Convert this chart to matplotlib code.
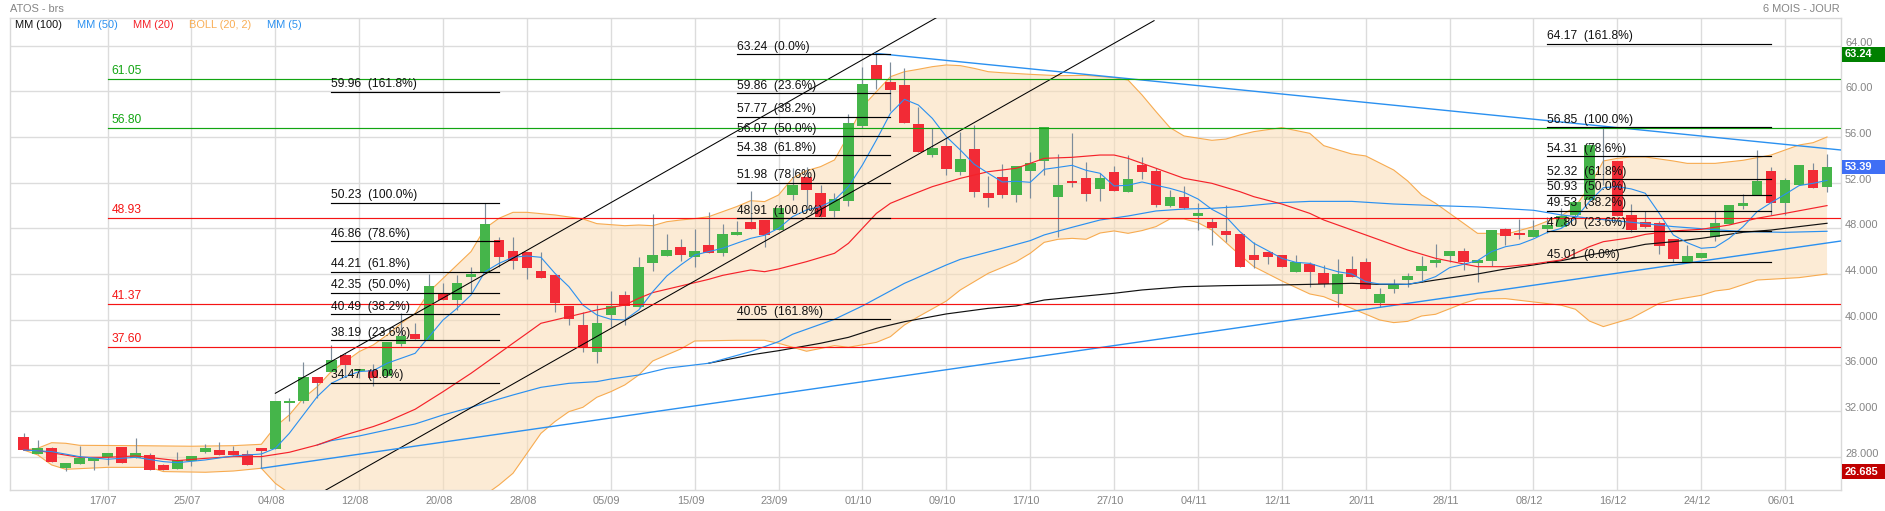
import matplotlib
matplotlib.use('Agg')
import matplotlib.pyplot as plt
import numpy as np
from matplotlib.patches import Rectangle

plt.rcParams['font.family'] = ['Liberation Sans', 'DejaVu Sans']

# daily candles, one row per session: open, high, low, close
ohlc = [
    (29.69, 30.04, 28.58, 28.58), (28.26, 29.46, 28.26, 28.73), (28.73, 28.88, 27.56, 27.56), (27.01, 27.44, 26.77, 27.44),
    (27.39, 28.93, 27.39, 27.88), (27.65, 27.85, 26.83, 27.85), (27.94, 28.32, 27.27, 28.32), (28.85, 28.85, 27.47, 27.47),
    (27.88, 29.61, 27.88, 28.32), (28.12, 28.32, 26.86, 26.86), (27.24, 27.36, 26.86, 26.86), (26.95, 28.38, 26.95, 27.68),
    (27.59, 28.03, 27.18, 28.03), (28.44, 29.11, 28.29, 28.73), (28.55, 29.25, 28.17, 28.17), (28.47, 28.96, 28.15, 28.15),
    (28.20, 28.58, 27.24, 27.24), (28.73, 28.73, 26.98, 28.53), (28.70, 32.88, 28.70, 32.88), (32.73, 33.11, 31.15, 32.85),
    (32.90, 36.29, 32.67, 34.95), (34.95, 34.95, 33.11, 34.48), (35.45, 37.75, 35.45, 36.47), (36.88, 37.11, 35.01, 36.00),
    (35.50, 35.65, 34.86, 35.65), (35.59, 36.12, 34.19, 34.86), (35.07, 38.04, 34.95, 38.04), (37.87, 40.55, 37.69, 38.57),
    (38.72, 39.74, 38.31, 38.31), (38.22, 44.00, 38.22, 42.95), (42.34, 43.18, 41.75, 41.75), (41.75, 43.91, 40.85, 43.18),
    (43.77, 44.64, 42.31, 43.97), (44.06, 50.25, 44.06, 48.38), (46.95, 47.21, 44.64, 45.52), (45.99, 47.21, 44.47, 45.17),
    (45.90, 45.90, 43.59, 44.55), (44.23, 45.90, 43.68, 43.68), (43.88, 43.88, 40.70, 41.43), (41.17, 41.17, 39.53, 40.03),
    (39.50, 40.64, 37.20, 37.63), (37.20, 41.28, 36.23, 39.68), (40.41, 42.51, 39.39, 41.20), (42.13, 42.51, 39.53, 41.20),
    (41.14, 45.49, 41.14, 44.61), (44.99, 49.26, 44.29, 45.66), (45.58, 47.50, 45.58, 46.07), (46.34, 47.07, 45.17, 45.69),
    (45.52, 47.94, 44.64, 45.99), (46.51, 49.43, 45.87, 45.87), (45.87, 48.41, 45.58, 47.50), (47.42, 48.67, 47.42, 47.68),
    (48.53, 51.27, 47.97, 47.97), (48.70, 48.70, 46.39, 47.42), (47.85, 49.90, 47.85, 49.75), (50.95, 53.26, 50.48, 51.77),
    (52.47, 53.34, 49.96, 51.39), (51.07, 51.82, 48.96, 48.96), (49.55, 51.07, 48.96, 50.54), (50.42, 58.01, 49.99, 57.20),
    (56.99, 62.13, 56.76, 60.61), (62.28, 63.33, 60.20, 61.05), (60.79, 62.57, 58.31, 60.15), (60.53, 62.01, 57.26, 57.26),
    (57.11, 58.66, 54.72, 54.72), (54.45, 56.79, 54.22, 55.01), (55.18, 55.88, 52.67, 53.17), (52.93, 56.47, 52.70, 54.04),
    (54.92, 57.05, 50.77, 51.21), (51.07, 52.58, 49.90, 50.69), (52.47, 53.63, 50.69, 50.95), (50.95, 53.46, 50.34, 53.46),
    (53.02, 54.69, 50.69, 53.69), (53.93, 56.85, 52.67, 56.85), (50.77, 54.48, 47.27, 51.77), (52.15, 56.32, 51.65, 51.97),
    (52.38, 53.78, 50.42, 51.04), (51.47, 52.82, 50.42, 52.38), (52.90, 53.46, 51.24, 51.24), (51.21, 54.42, 51.21, 52.29),
    (53.52, 54.25, 52.35, 52.96), (52.99, 53.26, 49.90, 50.01), (49.99, 51.36, 49.90, 50.72), (50.72, 51.71, 49.66, 49.75),
    (49.11, 50.19, 47.85, 49.34), (48.53, 48.88, 46.54, 48.00), (47.77, 50.04, 46.83, 47.44), (47.47, 47.47, 44.58, 44.58),
    (45.63, 46.80, 44.55, 45.20), (45.96, 45.96, 44.88, 45.52), (45.63, 45.63, 44.58, 44.58), (44.20, 45.66, 44.20, 45.08),
    (44.90, 45.08, 42.89, 44.20), (44.06, 44.79, 42.89, 43.15), (42.28, 45.31, 41.14, 43.97), (44.41, 45.58, 43.77, 43.77),
    (45.02, 45.37, 42.66, 42.66), (41.46, 42.74, 41.14, 42.25), (42.66, 43.53, 42.31, 43.04), (43.50, 44.06, 42.89, 43.80),
    (44.29, 45.58, 43.27, 44.67), (44.99, 46.60, 44.64, 45.20), (45.60, 45.99, 45.08, 45.99), (45.99, 46.28, 44.35, 45.08),
    (44.99, 45.20, 43.33, 45.20), (45.17, 47.82, 44.70, 47.82), (47.97, 48.06, 46.54, 47.33), (47.56, 48.82, 47.09, 47.44),
    (47.27, 48.73, 47.27, 47.82), (47.97, 49.02, 47.56, 48.26), (48.12, 49.75, 48.12, 49.11), (49.20, 50.28, 48.96, 50.28),
    (50.48, 55.50, 50.48, 55.27), (51.83, 56.85, 51.80, 51.80), (53.87, 53.87, 49.11, 49.11), (49.14, 50.13, 47.71, 47.82),
    (48.53, 49.55, 48.00, 48.12), (48.44, 48.67, 45.75, 46.48), (47.07, 47.07, 45.08, 45.34), (45.02, 46.54, 45.02, 45.58),
    (45.43, 45.81, 45.43, 45.81), (47.27, 49.55, 46.92, 48.44), (48.41, 50.01, 48.41, 50.01), (49.96, 50.98, 49.69, 50.22),
    (50.92, 54.83, 50.92, 52.12), (52.99, 53.34, 49.17, 50.25), (50.25, 52.38, 49.17, 52.23), (51.80, 53.52, 51.80, 53.52),
    (53.08, 53.69, 51.56, 51.56), (51.65, 54.48, 51.21, 53.39),
]

# moving averages and bollinger bands, read where the line bends
mm5 = [(0, 28.58), (2, 28.44), (4, 28.00), (6, 27.77), (8, 27.94), (10, 27.56), (11, 27.47), (13, 27.71), (15, 28.06),
       (17, 28.23), (18, 28.73), (19, 30.04), (20, 31.65), (21, 33.26), (22, 34.42), (23, 35.01), (24, 35.45), (25, 35.53),
       (26, 36.18), (28, 37.05), (29, 38.51), (30, 39.97), (31, 40.99), (32, 42.16), (33, 44.20), (34, 44.93), (35, 45.46),
       (36, 45.58), (37, 45.46), (38, 44.06), (39, 42.89), (40, 41.28), (41, 40.41), (42, 40.03), (43, 39.97), (44, 40.85),
       (45, 42.45), (46, 43.82), (47, 44.79), (48, 45.66), (49, 45.96), (50, 46.25), (51, 46.69), (52, 47.12), (53, 47.39),
       (54, 48.00), (55, 49.02), (56, 49.61), (57, 49.90), (58, 50.48), (59, 51.65), (60, 53.55), (61, 55.74), (62, 58.07),
       (63, 59.30), (64, 58.80), (65, 57.63), (66, 56.03), (67, 54.86), (68, 53.61), (69, 52.82), (70, 52.06), (71, 52.12),
       (72, 52.03), (73, 53.17), (74, 53.34), (75, 53.52), (76, 53.08), (77, 52.82), (78, 51.71), (79, 51.77), (80, 52.06),
       (81, 51.77), (82, 51.50), (83, 51.15), (84, 50.57), (85, 49.66), (86, 49.02), (87, 47.71), (88, 46.69), (89, 46.04),
       (90, 45.37), (91, 45.02), (92, 44.93), (93, 44.55), (94, 44.20), (95, 44.00), (96, 43.33), (97, 43.12), (98, 43.12),
       (99, 43.09), (100, 43.33), (101, 43.77), (102, 44.55), (103, 44.85), (104, 45.17), (105, 45.96), (106, 46.39),
       (107, 46.60), (108, 47.07), (109, 47.65), (110, 48.00), (111, 48.88), (112, 50.34), (113, 51.56), (114, 51.65),
       (115, 51.45), (116, 51.07), (117, 49.31), (118, 47.42), (119, 46.74), (120, 46.25), (121, 46.34), (122, 47.12),
       (123, 48.15), (124, 49.46), (125, 50.25), (126, 50.98), (127, 51.74), (128, 51.94), (129, 52.20)]
mm20 = [(0, 28.58), (1, 28.53), (4, 27.94), (6, 27.94), (8, 28.06), (11, 27.65), (13, 27.85), (15, 28.00), (17, 28.00),
        (19, 28.38), (21, 29.02), (23, 29.90), (25, 30.63), (26, 31.07), (28, 32.15), (30, 33.69), (32, 35.30), (34, 37.05),
        (35, 37.93), (36, 38.80), (37, 39.68), (39, 40.26), (41, 40.85), (43, 41.28), (44, 41.87), (45, 42.37), (47, 42.95),
        (49, 43.53), (50, 43.88), (52, 44.35), (53, 44.20), (54, 44.44), (56, 45.08), (58, 45.81), (59, 46.69), (60, 48.00),
        (61, 49.31), (62, 50.19), (63, 50.69), (65, 51.65), (67, 52.38), (69, 52.96), (71, 53.26), (72, 53.69), (73, 54.13),
        (75, 54.22), (77, 54.42), (78, 54.42), (79, 54.13), (81, 53.26), (83, 52.38), (85, 51.94), (87, 51.21), (88, 50.77),
        (90, 50.13), (92, 49.31), (93, 48.73), (96, 47.42), (99, 46.10), (101, 45.37), (103, 44.88), (104, 44.64),
        (106, 44.64), (108, 44.88), (110, 45.23), (112, 46.39), (113, 46.83), (115, 47.18), (116, 47.47), (118, 47.77),
        (120, 47.91), (122, 48.29), (124, 48.88), (126, 49.31), (129, 49.99)]
mm50 = [(21, 29.02), (22, 29.40), (24, 29.81), (26, 30.34), (28, 30.86), (30, 31.65), (32, 32.32), (35, 33.40), (37, 34.07),
        (39, 34.42), (41, 34.57), (42, 34.80), (44, 35.15), (46, 35.74), (49, 36.18), (52, 37.20), (54, 38.07), (55, 38.72),
        (58, 40.03), (60, 41.20), (63, 43.18), (66, 44.79), (67, 45.28), (70, 46.25), (72, 46.92), (73, 47.42), (75, 48.09),
        (77, 48.73), (79, 49.08), (81, 49.52), (83, 49.69), (85, 49.75), (87, 49.90), (90, 50.25), (92, 50.36), (95, 50.36),
        (98, 50.13), (101, 49.99), (104, 49.87), (108, 49.58), (110, 49.17), (112, 48.88), (115, 48.53), (118, 48.15),
        (120, 47.97), (123, 47.71), (126, 47.65), (129, 47.74)]
mm100 = [(49, 36.18), (52, 36.91), (54, 37.28), (57, 37.93), (59, 38.45), (61, 39.24), (63, 39.82), (66, 40.50), (69, 40.99),
         (71, 41.20), (73, 41.72), (75, 41.96), (78, 42.31), (80, 42.60), (83, 42.89), (86, 42.98), (90, 43.04), (93, 43.12),
         (95, 43.18), (97, 43.09), (99, 43.09), (101, 43.47), (104, 44.00), (106, 44.44), (108, 44.79), (110, 45.17),
         (112, 45.66), (114, 46.10), (116, 46.60), (118, 46.83), (120, 47.12), (123, 47.65), (125, 47.85), (127, 48.15),
         (129, 48.44)]
boll_up = [(0, 28.58), (1, 28.73), (2, 29.22), (3, 29.17), (4, 28.99), (8, 28.96), (12, 28.91), (15, 28.96), (17, 29.08),
           (18, 30.63), (19, 31.65), (20, 33.11), (21, 34.13), (22, 35.45), (23, 36.32), (24, 37.20), (25, 37.78), (26, 38.66),
           (27, 39.68), (28, 40.55), (29, 42.45), (30, 43.62), (31, 44.79), (32, 45.96), (33, 48.00), (34, 48.88), (35, 49.40),
           (36, 49.40), (38, 49.17), (40, 48.82), (41, 48.41), (43, 48.23), (44, 48.29), (45, 48.23), (46, 48.58), (47, 48.73),
           (48, 48.85), (49, 49.02), (51, 49.90), (52, 50.42), (53, 50.34), (54, 50.92), (55, 52.38), (56, 53.05), (57, 53.40),
           (58, 53.99), (59, 56.18), (60, 58.66), (61, 59.97), (62, 61.28), (63, 61.72), (64, 61.93), (65, 62.16), (66, 62.31),
           (67, 62.25), (68, 62.01), (69, 61.72), (70, 61.63), (72, 61.49), (74, 61.37), (76, 61.40), (78, 61.20), (79, 60.99),
           (80, 59.68), (81, 58.22), (82, 56.82), (83, 56.09), (85, 55.71), (86, 55.82), (87, 56.18), (88, 56.47), (90, 56.82),
           (92, 56.32), (93, 55.24), (95, 54.51), (96, 54.34), (98, 53.11), (99, 52.15), (100, 50.92), (101, 50.19),
           (103, 48.44), (104, 47.56), (105, 47.56), (106, 47.47), (108, 48.15), (110, 49.11), (111, 49.90), (112, 51.65),
           (113, 53.90), (114, 54.13), (115, 54.25), (116, 54.25), (118, 53.90), (119, 53.69), (121, 53.69), (123, 53.96),
           (125, 54.42), (126, 54.86), (127, 55.30), (128, 55.50), (129, 56.00)]
boll_low = [(0, 28.58), (1, 28.15), (2, 27.27), (3, 26.89), (6, 27.06), (9, 27.06), (10, 26.69), (13, 26.63), (15, 26.74),
            (17, 26.98), (18, 25.66), (19, 24.79), (20, 23.62), (22, 21.28), (26, 20.12), (30, 20.70), (33, 24.64), (34, 25.52),
            (35, 26.54), (36, 28.29), (37, 30.04), (38, 31.07), (39, 31.94), (40, 32.32), (41, 33.20), (42, 33.69), (43, 34.28),
            (44, 35.15), (45, 36.38), (46, 36.91), (47, 37.43), (48, 38.13), (51, 38.19), (53, 38.19), (54, 37.93), (56, 37.23),
            (58, 37.72), (59, 37.58), (61, 38.01), (62, 38.51), (63, 39.53), (64, 40.26), (66, 41.63), (67, 42.60), (69, 44.06),
            (71, 45.08), (72, 45.81), (73, 46.77), (74, 47.04), (75, 47.12), (76, 47.04), (77, 47.59), (78, 47.77), (79, 47.56),
            (80, 47.80), (81, 48.15), (82, 48.82), (83, 48.82), (84, 48.50), (85, 47.85), (87, 45.66), (88, 44.64), (90, 43.39),
            (92, 42.25), (93, 42.01), (95, 40.99), (97, 39.97), (98, 39.74), (99, 39.85), (100, 40.32), (101, 40.47),
            (103, 41.43), (104, 41.81), (106, 41.84), (108, 41.55), (110, 41.26), (111, 40.91), (112, 39.88), (113, 39.39),
            (115, 40.12), (117, 41.43), (118, 41.72), (120, 42.13), (121, 42.51), (122, 42.66), (124, 43.47), (127, 43.68),
            (129, 44.00)]

# drawn objects: trendlines, supports/resistances, fibonacci blocks
black_trends = [((18, 33.55), (65.42, 66.54)), ((21.58, 25.05), (80.86, 66.19))]
blue_trends = [((60.92, 63.33), (130, 54.86)), ((17, 26.98), (130, 46.89))]
green_levels = [61.05, 56.80]
red_levels = [48.93, 41.37, 37.60]
fib_blocks = [
    (22, 34, [(59.96, '161.8%'), (50.23, '100.0%'), (46.86, '78.6%'), (44.21, '61.8%'), (42.35, '50.0%'),
              (40.49, '38.2%'), (38.19, '23.6%'), (34.47, '0.0%')]),
    (51, 62, [(63.24, '0.0%'), (59.86, '23.6%'), (57.77, '38.2%'), (56.07, '50.0%'), (54.38, '61.8%'),
              (51.98, '78.6%'), (48.91, '100.0%'), (40.05, '161.8%')]),
    (109, 125, [(64.17, '161.8%'), (56.85, '100.0%'), (54.31, '78.6%'), (52.32, '61.8%'), (50.93, '50.0%'),
                (49.53, '38.2%'), (47.80, '23.6%'), (45.01, '0.0%')]),
]

date_labels = ['17/07', '25/07', '04/08', '12/08', '20/08', '28/08', '05/09', '15/09', '23/09', '01/10', '09/10',
               '17/10', '27/10', '04/11', '12/11', '20/11', '28/11', '08/12', '16/12', '24/12', '06/01']
date_pos = list(range(6, 127, 6))
price_ticks = [64, 60, 56, 52, 48, 44, 40, 36, 32, 28]
price_labels = ['64.00', '60.00', '56.00', '52.00', '48.000', '44.000', '40.000', '36.000', '32.000', '28.000']
tags = [(63.24, '63.24', '#008000'), (53.39, '53.39', '#3f6ff5'), (26.685, '26.685', '#c00000')]

BLUE = '#2a90f0'
RED = '#f5222a'
ORANGE = '#f7ab50'
GREEN_LINE = '#12a512'
GREY = '#858585'
PX11 = 7.92
PX12 = 8.64

fig = plt.figure(figsize=(18.85, 5.11), dpi=100)
ax = fig.add_axes([10 / 1885, 1 - 490.3 / 511, 1831 / 1885, 472.6 / 511])
ax.set_xlim(-0.98, 130)
ax.set_ylim(25.05, 66.45)
ax.set_xticks([])
ax.set_yticks([])
for s in ax.spines.values():
    s.set_color('#d9d9d9')
    s.set_linewidth(1.0)

for x in date_pos:
    ax.axvline(x, color='#dcdcdc', lw=1.0, zorder=1)
for y in price_ticks:
    ax.axhline(y, color='#dcdcdc', lw=1.0, zorder=1)

# bollinger band
up = np.array(boll_up)
low = np.array(boll_low)
ax.fill(np.r_[up[:, 0], low[::-1, 0]], np.r_[up[:, 1], low[::-1, 1]], color='#fbdcb4', alpha=0.55, lw=0, zorder=2)
ax.plot(up[:, 0], up[:, 1], color=ORANGE, lw=0.8, zorder=3)
ax.plot(low[:, 0], low[:, 1], color=ORANGE, lw=0.8, zorder=3)

# candles
candles = np.array(ohlc)
idx = np.arange(len(candles))
opens, highs, lows, closes = candles.T
colors = np.where(closes >= opens, '#45b54a', '#f22b36')
ax.vlines(idx, lows, highs, color='#7d8c9a', lw=0.85, zorder=4)
ax.bar(idx, np.abs(closes - opens), bottom=np.minimum(opens, closes), width=0.76, color=colors, lw=0, zorder=5)

# moving averages
for series, col, width in [(mm100, '#111111', 0.85), (mm50, BLUE, 0.85), (mm20, RED, 0.85), (mm5, BLUE, 0.8)]:
    arr = np.array(series)
    ax.plot(arr[:, 0], arr[:, 1], color=col, lw=width, zorder=6)

for (a, b) in black_trends:
    ax.plot([a[0], b[0]], [a[1], b[1]], color='black', lw=0.75, zorder=7)
for (a, b) in blue_trends:
    ax.plot([a[0], b[0]], [a[1], b[1]], color=BLUE, lw=1.0, zorder=7)

# horizontal levels start at the first gridline
for levels, col in [(green_levels, GREEN_LINE), (red_levels, '#f51414')]:
    for lv in levels:
        ax.plot([6, 130], [lv, lv], color=col, lw=0.85, zorder=7)
        ax.annotate('%.2f' % lv, (6, lv), xytext=(3, 1.5), textcoords='offset points', color=col,
                    fontsize=PX12, ha='left', va='bottom', zorder=9)

# fibonacci blocks
for start, end, rows in fib_blocks:
    for value, pct in rows:
        ax.plot([start, end], [value, value], color='black', lw=0.85, zorder=8)
        ax.annotate('%.2f  (%s)' % (value, pct), (start, value), xytext=(0, 1), textcoords='offset points',
                    color='#111111', fontsize=PX12, ha='left', va='bottom', zorder=9)

# axis text, placed by hand so the labels sit a little off the gridlines
xt = ax.get_xaxis_transform()
yt = ax.get_yaxis_transform()
for x, lab in zip(date_pos, date_labels):
    ax.text(x - 0.3, -0.0226, lab, transform=xt, color=GREY, fontsize=PX11, ha='center', va='center', clip_on=False)
for y, lab in zip(price_ticks, price_labels):
    ax.text(1.0022, y + 0.26, lab, transform=yt, color=GREY, fontsize=PX11, ha='left', va='center', clip_on=False)

for value, lab, col in tags:
    ax.add_patch(Rectangle((1.0006, value - 0.63), 0.0235, 1.26, transform=yt, color=col, lw=0, clip_on=False, zorder=10))
    ax.text(1.0022, value, lab, transform=yt, color='white', fontsize=PX11, fontweight='bold', ha='left', va='center',
            clip_on=False, zorder=11)

# legend row inside the plot and the two header captions
legend = [('MM (100)', '#111111', 15), ('MM (50)', BLUE, 77), ('MM (20)', RED, 133), ('BOLL (20, 2)', '#f9ae55', 189),
          ('MM (5)', BLUE, 267)]
for lab, col, px in legend:
    fig.text(px / 1885, 1 - 25.5 / 511, lab, color=col, fontsize=PX11, ha='left', va='center')
fig.text(10 / 1885, 1 - 9.5 / 511, 'ATOS - brs', color=GREY, fontsize=PX11, ha='left', va='center')
fig.text(1840 / 1885, 1 - 9.5 / 511, '6 MOIS - JOUR', color=GREY, fontsize=PX11, ha='right', va='center')

fig.savefig('out.png', dpi=100)
